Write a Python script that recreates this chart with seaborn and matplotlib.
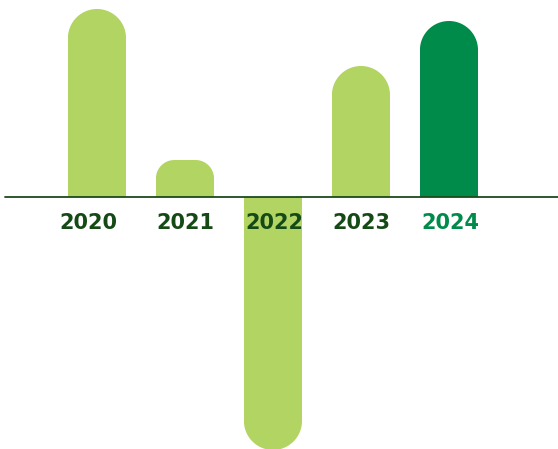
import matplotlib
matplotlib.use("Agg")
import matplotlib.pyplot as plt
import seaborn as sns
import pandas as pd
import numpy as np
from matplotlib.patches import Polygon

years = ["2020", "2021", "2022", "2023", "2024"]
values = [188, 37, -253, 131, 176]
bar_colors = ["#b2d463", "#b2d463", "#b2d463", "#b2d463", "#008b4b"]
label_colors = ["#154a17", "#154a17", "#154a17", "#154a17", "#008b4b"]
label_dx = [-0.1, 0, 0.02, 0.01, 0.02]  # small horizontal nudges of the labels

sns.set_theme(style="white")
plt.rcParams['font.family'] = ['DejaVu Sans']

df = pd.DataFrame({"year": years, "value": values})

fig = plt.figure(figsize=(5.58, 4.49), dpi=100)
ax = fig.add_axes([0, 0, 1, 1])

bar_w = 0.66
sns.barplot(data=df, x="year", y="value", hue="year", palette=bar_colors,
            width=bar_w, legend=False, ax=ax, saturation=1)

ax.set_xlim(-1.102, 5.239)
ax.set_ylim(-252, 197)

px_per_x = 88.0  # pixels per category unit; y units are pixels

for p in ax.patches:
    x0 = p.get_x()
    w = p.get_width()
    v = p.get_height()
    p.set_edgecolor("none")
    s = 1 if v >= 0 else -1
    r_px = min(w * px_per_x / 2, abs(v) / 2)
    rx = r_px / px_per_x
    ry = r_px
    x1 = x0 + w
    t1 = np.linspace(np.pi, np.pi / 2, 30)
    t2 = np.linspace(np.pi / 2, 0, 30)
    cy = v - s * ry
    left = np.column_stack([x0 + rx + rx * np.cos(t1), cy + s * ry * np.sin(t1)])
    right = np.column_stack([x1 - rx + rx * np.cos(t2), cy + s * ry * np.sin(t2)])
    verts = np.vstack([[[x0, -s * 3]], left, right, [[x1, -s * 3]]])
    clip = Polygon(verts, closed=True, transform=ax.transData)
    p.set_clip_path(clip)

ax.axhline(0, xmin=5 / 558, xmax=1, color="#1b4a1b", lw=1.3, zorder=3)

for i, (y, lc) in enumerate(zip(years, label_colors)):
    ax.text(i + label_dx[i], -26, y, ha="center", va="center", fontsize=15,
            fontweight="bold", color=lc, zorder=4)

ax.set_axis_off()
fig.savefig("out.png", dpi=100)
